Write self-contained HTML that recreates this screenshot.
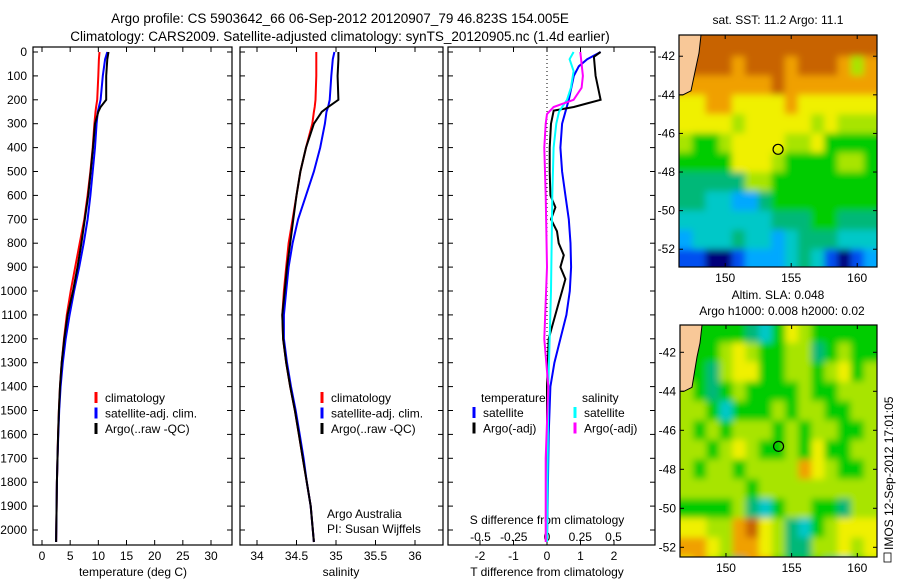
<!DOCTYPE html>
<html><head><meta charset="utf-8"><style>
body{margin:0;background:#fff;}
svg{display:block;font-family:"Liberation Sans",sans-serif;}
</style></head><body>
<svg id="fig" width="900" height="580" viewBox="0 0 900 580">
<defs>
<filter id="blur" x="-5%" y="-5%" width="110%" height="110%"><feGaussianBlur stdDeviation="3.5"/></filter>
<clipPath id="clip-m1"><rect x="679" y="35" width="198" height="232"/></clipPath>
<clipPath id="clip-m2"><rect x="680" y="325" width="197" height="232"/></clipPath>
</defs>
<text x="340" y="23" font-size="13.5" text-anchor="middle">Argo profile: CS 5903642_66 06-Sep-2012 20120907_79 46.823S 154.005E</text>
<text x="340" y="41" font-size="13.5" text-anchor="middle">Climatology: CARS2009. Satellite-adjusted climatology: synTS_20120905.nc (1.4d earlier)</text>
<g id="p1"></g>
<g id="p2"></g>
<g id="p3"></g>
<g id="m1"></g>
<g id="m2"></g>
<text x="778" y="24" font-size="12" text-anchor="middle">sat. SST: 11.2 Argo: 11.1</text>
<text x="778" y="299" font-size="12" text-anchor="middle">Altim. SLA: 0.048</text>
<text x="782" y="315" font-size="12" text-anchor="middle">Argo h1000: 0.008 h2000: 0.02</text>
<text transform="translate(893,550) rotate(-90)" font-size="12">IMOS 12-Sep-2012 17:01:05</text>
<rect x="884" y="553" width="7" height="9" fill="none" stroke="#000" stroke-width="0.8"/>
</svg>
<script>
const NS="http://www.w3.org/2000/svg";
function mk(parent,tag,attrs,txt){const e=document.createElementNS(NS,tag);for(const k in attrs)e.setAttribute(k,attrs[k]);if(txt!==undefined)e.textContent=txt;parent.appendChild(e);return e;}

// ---- data ----
const depthTicks=[0,100,200,300,400,500,600,700,800,900,1000,1100,1200,1300,1400,1500,1600,1700,1800,1900,2000];
const tempTicks=[0,5,10,15,20,25,30];
const salTicks=[34,34.5,35,35.5,36];
const tdiffTicks=[-2,-1,0,1,2];
const sdiffTicks=[-0.5,-0.25,0,0.25,0.5];
const profDepth=[0,30,100,200,230,250,300,400,500,600,700,800,900,1000,1100,1200,1300,1400,1500,1600,1700,1800,1900,2050];
const tempClim=[10.2,10.1,10.0,9.8,9.6,9.5,9.3,9.0,8.6,8.1,7.5,6.7,5.9,5.1,4.4,3.9,3.5,3.2,3.0,2.85,2.75,2.65,2.6,2.5];
const tempSat=[11.6,11.2,10.8,10.4,10.1,9.9,9.7,9.4,9.0,8.6,8.1,7.4,6.6,5.7,4.9,4.2,3.7,3.3,3.05,2.9,2.75,2.65,2.6,2.5];
const tempArgo=[11.8,11.6,11.4,11.4,10.4,10.0,9.4,9.05,8.65,8.2,7.6,7.0,6.3,5.5,4.55,3.95,3.5,3.2,3.0,2.85,2.75,2.65,2.6,2.5];
const salClim=[34.75,34.75,34.75,34.74,34.73,34.72,34.7,34.62,34.55,34.5,34.45,34.4,34.37,34.34,34.32,34.33,34.37,34.42,34.48,34.53,34.58,34.63,34.68,34.72];
const salSat=[34.98,34.96,34.94,34.92,34.9,34.88,34.86,34.8,34.72,34.62,34.52,34.45,34.4,34.37,34.34,34.34,34.38,34.43,34.49,34.54,34.59,34.63,34.68,34.72];
const salArgo=[35.03,35.03,35.02,35.03,34.9,34.82,34.72,34.62,34.55,34.5,34.46,34.42,34.38,34.35,34.32,34.33,34.37,34.42,34.48,34.53,34.58,34.63,34.68,34.72];
const tdSatDepth=[0,30,60,100,200,250,300,400,500,600,700,800,900,1000,1100,1200,1300,1400,1600,2050];
const tdSat=[1.6,1.2,0.95,0.8,0.65,0.55,0.45,0.4,0.45,0.55,0.65,0.7,0.72,0.68,0.58,0.4,0.22,0.1,0.05,0.0];
const tdArgoDepth=[0,20,100,200,215,230,245,300,400,500,600,650,700,750,800,850,900,950,1000,1050,1150,1200,1400,2050];
const tdArgo=[1.6,1.4,1.45,1.6,1.2,0.8,0.2,0.12,0.08,0.08,0.1,0.25,0.12,0.3,0.35,0.5,0.4,0.55,0.45,0.35,0.15,0.05,0.0,0.0];
const sdSatDepth=[0,30,80,150,200,250,300,400,600,1000,1400,2050];
const sdSat=[0.2,0.17,0.2,0.18,0.15,0.09,0.07,0.05,0.04,0.03,0.01,0.0];
const sdArgoDepth=[0,100,150,200,230,260,300,400,600,900,1200,1400,1700,2050];
const sdArgo=[0.25,0.27,0.26,0.2,0.05,0.0,-0.01,-0.02,-0.01,0.0,-0.02,0.01,-0.01,-0.01];

// ---- axes ----
const Y0=52,Y2000=530,TOP=47,BOT=545;
const yD=d=>Y0+(Y2000-Y0)*d/2000;

function frame(g,x0,x1,name){
  mk(g,'rect',{x:x0,y:TOP,width:x1-x0,height:BOT-TOP,fill:'#fff',stroke:'#000','stroke-width':1.2,});
  depthTicks.forEach(d=>{const y=yD(d);
    mk(g,'line',{x1:x0,x2:x0+5,y1:y,y2:y,stroke:'#000'});
    mk(g,'line',{x1:x1-5,x2:x1,y1:y,y2:y,stroke:'#000'});});
}
function xticks(g,vals,fx,yl,fmt,top){
  vals.forEach(v=>{const x=fx(v);
    mk(g,'line',{x1:x,x2:x,y1:BOT,y2:BOT-5,stroke:'#000'});
    if(top!==false)mk(g,'line',{x1:x,x2:x,y1:TOP,y2:TOP+5,stroke:'#000'});
    const t=mk(g,'text',{x:x,y:yl,'font-size':12,'text-anchor':'middle'},fmt(v));
    
    });
}
function line(g,xs,ds,fx,color,name,w){
  const pts=xs.map((v,i)=>fx(v).toFixed(1)+','+yD(ds[i]).toFixed(1)).join(' ');
  const p=mk(g,'polyline',{points:pts,fill:'none',stroke:color,'stroke-width':w||2});
  
  
}
function legend(g,x,y,items){
  items.forEach((it,i)=>{const yy=y+i*15.5;
    mk(g,'line',{x1:x,x2:x,y1:yy-10,y2:yy+1,stroke:it[0],'stroke-width':3});
    const t=mk(g,'text',{x:x+9,y:yy,'font-size':12},it[1]);
    
    });
}

// panel 1
const p1=document.getElementById('p1');
const xT=v=>42+v*(211-42)/30;
frame(p1,33,232,'temperature-panel');
depthTicks.forEach(d=>{const t=mk(p1,'text',{x:27,y:yD(d)+4,'font-size':12,'text-anchor':'end'},String(d));
  
  });
xticks(p1,tempTicks,xT,560,v=>String(v));
mk(p1,'text',{x:133,y:576,'font-size':12,'text-anchor':'middle',},'temperature (deg C)');
line(p1,tempClim,profDepth,xT,'#ff0000','temp-climatology-line');
line(p1,tempSat,profDepth,xT,'#0000ff','temp-satellite-line');
line(p1,tempArgo,profDepth,xT,'#000000','temp-argo-line');
legend(p1,96,402,[['#ff0000','climatology'],['#0000ff','satellite-adj. clim.'],['#000','Argo(..raw -QC)']]);

// panel 2
const p2=document.getElementById('p2');
const xS=v=>257+(v-34)*(415-257)/2;
frame(p2,240,443,'salinity-panel');
xticks(p2,salTicks,xS,560,v=>String(v));
mk(p2,'text',{x:341,y:576,'font-size':12,'text-anchor':'middle',},'salinity');
line(p2,salClim,profDepth,xS,'#ff0000','sal-climatology-line');
line(p2,salSat,profDepth,xS,'#0000ff','sal-satellite-line');
line(p2,salArgo,profDepth,xS,'#000000','sal-argo-line');
legend(p2,322,402,[['#ff0000','climatology'],['#0000ff','satellite-adj. clim.'],['#000','Argo(..raw -QC)']]);
mk(p2,'text',{x:327,y:518,'font-size':12,},'Argo Australia');
mk(p2,'text',{x:327,y:533,'font-size':12,},'PI: Susan Wijffels');

// panel 3
const p3=document.getElementById('p3');
const xTd=v=>547+v*33.5;
const xSd=v=>547+v*133;
frame(p3,448,655,'difference-panel');
mk(p3,'line',{x1:547,x2:547,y1:TOP,y2:BOT,stroke:'#000','stroke-dasharray':'1,3',});
xticks(p3,tdiffTicks,xTd,560,v=>String(v));
sdiffTicks.forEach(v=>{const t=mk(p3,'text',{x:xSd(v),y:541,'font-size':12,'text-anchor':'middle'},String(v));
  
  });
mk(p3,'text',{x:547,y:524,'font-size':12,'text-anchor':'middle',},'S difference from climatology');
mk(p3,'text',{x:547,y:576,'font-size':12,'text-anchor':'middle',},'T difference from climatology');
line(p3,tdSat,tdSatDepth,xTd,'#0000ff','tdiff-satellite-line');
line(p3,tdArgo,tdArgoDepth,xTd,'#000','tdiff-argo-line');
line(p3,sdSat,sdSatDepth,xSd,'#00ffff','sdiff-satellite-line');
line(p3,sdArgo,sdArgoDepth,xSd,'#ff00ff','sdiff-argo-line');
mk(p3,'text',{x:481,y:402,'font-size':12,},'temperature');
mk(p3,'text',{x:582,y:402,'font-size':12,},'salinity');
legend(p3,474,417,[['#0000ff','satellite'],['#000','Argo(-adj)']]);
legend(p3,575,417,[['#00ffff','satellite'],['#ff00ff','Argo(-adj)']]);

// ---- maps ----
const cmap=['#00007a','#0050f0','#00a8ff','#00c8c8','#00b878','#00cc00','#a8e400','#f0f000','#f0a000','#c86400'];
const lonTicks=[150,155,160];
const latTicks=[-42,-44,-46,-48,-50,-52];
const sstGrid=[
[9,9,9,9,9,9,9,9,9,9,9,9,9,9,9],
[9,9,9,9,8,9,9,9,8,9,9,9,8,6,8],
[8,8,8,8,8,8,8,9,8,8,8,8,8,8,8],
[7,7,8,8,7,7,7,7,8,7,7,7,7,7,7],
[7,7,7,7,6,7,7,7,7,7,6,7,6,6,6],
[6,5,5,6,7,7,7,7,6,6,7,5,5,5,5],
[5,5,5,5,7,7,7,6,5,5,5,5,6,6,5],
[4,4,4,4,4,6,6,5,5,5,5,5,5,5,5],
[4,4,3,3,2,2,4,5,5,5,5,5,5,5,5],
[3,3,3,3,3,3,3,4,4,4,5,5,4,4,4],
[2,3,3,3,4,3,3,2,3,4,4,4,3,3,3],
[1,1,0,0,1,2,2,2,3,4,3,1,0,1,2]];
const slaGrid=[
[5,5,5,5,5,4,3,5,7,6,5,5,5,5,5],
[5,5,5,6,7,6,5,5,6,6,4,5,6,5,5],
[5,5,4,6,7,7,5,5,6,6,5,6,7,5,6],
[6,5,4,5,6,5,5,5,5,6,5,5,6,6,6],
[6,6,5,3,5,5,5,6,5,6,6,5,5,6,6],
[6,5,6,5,6,6,6,5,6,5,6,6,5,5,6],
[6,6,5,6,7,6,5,5,6,5,7,5,5,6,6],
[6,5,6,6,5,6,6,6,6,8,7,6,5,5,6],
[6,6,6,6,6,5,6,6,6,6,6,6,6,6,6],
[5,5,5,5,6,4,3,5,6,6,5,5,4,6,6],
[7,7,6,6,8,9,7,6,4,3,5,6,7,7,7],
[8,8,7,6,8,8,7,6,4,4,6,6,7,6,7],
[7,8,6,5,4,8,8,5,5,5,5,4,3,5,6]];
const argoLon=154.005, argoLat=-46.823;

function drawMap(id,grid,x0,x1,y0,y1,lat0,latStep,lon0,lon1,latTop,latPx,name){
  const g=document.getElementById(id);
  const fx=lon=>x0+(lon-lon0)*(x1-x0)/(lon1-lon0);
  const fy=lat=>y0+(latTop-lat)*latPx;
  const clipG=mk(g,'g',{'clip-path':'url(#clip-'+id+')'});
  const cells=mk(clipG,'g',{filter:'url(#blur)'});
  const nc=grid[0].length, nr=grid.length, cw=(x1-x0)/nc, E=12;
  grid.forEach((row,r)=>row.forEach((v,c)=>{
    let ya=fy(lat0-r*latStep), yb=fy(lat0-(r+1)*latStep);
    let xa=x0+c*cw, xb=xa+cw;
    if(r===0)ya=Math.min(ya,y0)-E;
    if(r===nr-1)yb=Math.max(yb,y1)+E;
    if(c===0)xa-=E;
    if(c===nc-1)xb+=E;
    const cell=mk(cells,'rect',{x:xa.toFixed(1),y:ya.toFixed(1),width:(xb-xa+0.6).toFixed(1),height:(yb-ya+0.6).toFixed(1),fill:cmap[v]});
    
    
  }));
  mk(g,'path',{d:`M${x0},${y0} L${x0+22},${y0} L${x0+20},${y0+18} L${x0+17},${y0+32} L${x0+12},${fy(-44)-4} L${x0+4},${fy(-44)} L${x0},${fy(-44)} Z`,fill:'#f8c898',stroke:'#000','stroke-width':1,});
  mk(g,'rect',{x:x0,y:y0,width:x1-x0,height:y1-y0,fill:'none',stroke:'#000','stroke-width':1.2,});
  lonTicks.forEach(l=>{const x=fx(l);
    mk(g,'line',{x1:x,x2:x,y1:y0,y2:y0+4,stroke:'#000'});
    mk(g,'line',{x1:x,x2:x,y1:y1,y2:y1-4,stroke:'#000'});
    const t=mk(g,'text',{x:x,y:y1+15,'font-size':12,'text-anchor':'middle'},String(l));
    
    });
  latTicks.forEach(l=>{const y=fy(l);
    mk(g,'line',{x1:x0,x2:x0+4,y1:y,y2:y,stroke:'#000'});
    mk(g,'line',{x1:x1,x2:x1-4,y1:y,y2:y,stroke:'#000'});
    const t=mk(g,'text',{x:x0-4,y:y+4,'font-size':12,'text-anchor':'end'},String(l));
    
    });
  mk(g,'circle',{cx:fx(argoLon),cy:fy(argoLat),r:5,fill:'none',stroke:'#000','stroke-width':1.2,});
}
drawMap('m1',sstGrid,679,877,35,267,-41,1,146.5,161.5,-40.9,19.3,'sst-map');
drawMap('m2',slaGrid,680,877,325,557,-40.5,1,146.5,161.5,-40.6,19.5,'sla-map');
</script>
</body></html>
